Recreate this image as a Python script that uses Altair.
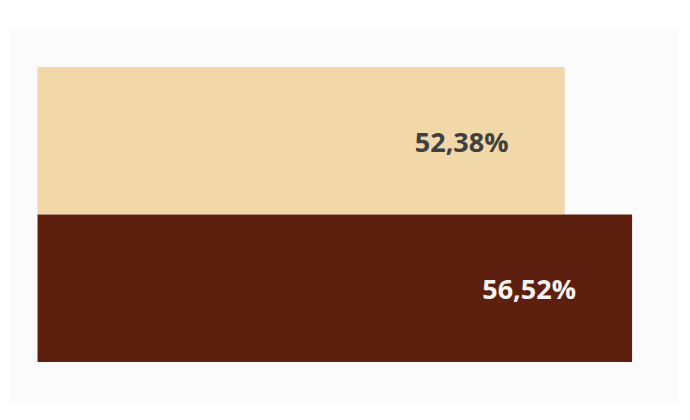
import altair as alt
import pandas as pd

categories = ["Série 1", "Série 2"]
values = [52.38, 56.52]
bar_colors = ["#F2D7A9", "#5E200E"]
label_colors = ["#404040", "#F4F4F4"]
axis_base = 20

df = pd.DataFrame({
    "cat": categories,
    "value": values,
    "label": [f"{v:.2f}".replace(".", ",") + "%" for v in values],
    "bcolor": bar_colors,
    "tcolor": label_colors,
})

x = alt.X("value:Q", scale=alt.Scale(domain=[18.31, 59.34], zero=False, nice=False), axis=None)
y = alt.Y("cat:N", sort=categories,
          scale=alt.Scale(paddingInner=0, paddingOuter=0.2746, align=0.4815), axis=None)

bars = alt.Chart(df).mark_bar().encode(
    x=x,
    x2=alt.datum(axis_base),
    y=y,
    color=alt.Color("bcolor:N", scale=None),
)

text = alt.Chart(df).mark_text(
    font="Open Sans", fontWeight="bold", fontSize=27, align="center", dx=-103, dy=3
).encode(
    x=x,
    y=y,
    text="label:N",
    color=alt.Color("tcolor:N", scale=None),
)

chart = (bars + text).properties(
    width=668, height=376,
    padding={"left": 2, "top": 20, "right": 0, "bottom": 0},
    background="white",
).configure_view(fill="#FBFBFB", strokeWidth=0)

chart.save("out.html", embed_options={"renderer": "svg", "actions": False})
